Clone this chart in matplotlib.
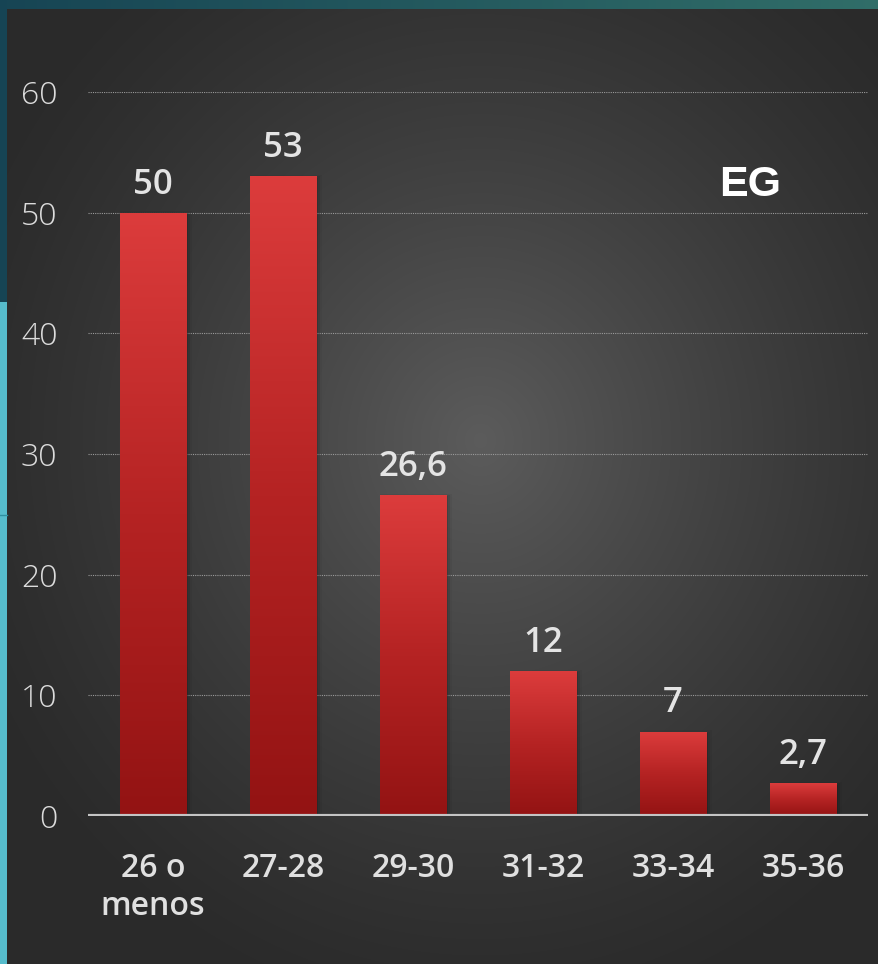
import numpy as np
import matplotlib
matplotlib.use("Agg")
import matplotlib.pyplot as plt
from matplotlib.colors import LinearSegmentedColormap

categories = ["26 o\nmenos", "27-28", "29-30", "31-32", "33-34", "35-36"]
values = [50, 53, 26.6, 12, 7, 2.7]
value_labels = ["50", "53", "26,6", "12", "7", "2,7"]
yticks = [0, 10, 20, 30, 40, 50, 60]
title_text = "EG"

W, H = 879, 964
fig = plt.figure(figsize=(W / 100, H / 100), dpi=100)

# background
bg = fig.add_axes([0, 0, 1, 1])
bg.set_xlim(0, W)
bg.set_ylim(H, 0)
bg.axis("off")
yy, xx = np.mgrid[0:H, 0:W]
r = np.sqrt(((xx - 480) / 560.0) ** 2 + ((yy - 440) / 600.0) ** 2)
v = np.clip(1 - r, 0, 1) ** 1.3
lo, hi = 0.165, 0.36
g = lo + (hi - lo) * v
img = np.dstack([g, g, g])
bg.imshow(img, extent=[0, W, H, 0], aspect="auto", zorder=0)
# teal frame
top = np.linspace(0, 1, W)
tc = np.array([0.09, 0.27, 0.33])[None, :] * (1 - top[:, None]) + np.array([0.19, 0.43, 0.41])[None, :] * top[:, None]
bg.imshow(tc[None, :, :], extent=[0, W, 9, 0], aspect="auto", zorder=1)
bg.fill_between([0, 7], 0, 302, color="#164454", zorder=1, lw=0)
bg.fill_between([0, 7], 302, H, color="#56bccc", zorder=1, lw=0)
bg.plot([0, 7], [515, 515], color="#2f8fa0", lw=1, zorder=2)

ax = fig.add_axes([88 / W, 148 / H, 780 / W, (816 - 92) / H])
ax.set_facecolor("none")
x = np.arange(len(categories))
bars = ax.bar(x, values, width=0.515, color="none", zorder=3)

cmap = LinearSegmentedColormap.from_list("r", ["#931313", "#b52323", "#dc3c3c"])
grad = np.linspace(0, 1, 256)[:, None]
for b in bars:
    x0, y0 = b.get_x(), b.get_y()
    w, h = b.get_width(), b.get_height()
    # soft shadow
    for k, a in enumerate([0.10, 0.07, 0.04]):
        ax.bar(x0 + w / 2 + 0.008 * (k + 1), h + 0.1 * k, width=w + 0.012 * (k + 1),
               bottom=-0.1, color="black", alpha=a, zorder=2, lw=0)
    im = ax.imshow(grad, cmap=cmap, extent=[x0, x0 + w, y0, y0 + h], origin="lower",
                   aspect="auto", zorder=3)
    im.set_clip_path(b)
ax.set_aspect("auto")
ax.set_xlim(-0.5, len(categories) - 0.5)
ax.set_ylim(0, 60)

for xi, val, lab in zip(x, values, value_labels):
    ax.annotate(lab, (xi, val), xytext=(0, 8), textcoords="offset points",
                ha="center", va="bottom", fontsize=25, fontweight="semibold",
                color="#e4e4e4", family="Open Sans", zorder=5)

for yv in yticks[1:]:
    ax.axhline(yv, color="#9a9a9a", lw=0.8, ls=(0, (1, 1)), zorder=1)
ax.axhline(0, color="#c4c4c4", lw=3, zorder=4)

for s in ax.spines.values():
    s.set_visible(False)
ax.set_yticks(yticks)
ax.set_yticklabels([str(t) for t in yticks], fontsize=23, color="#dcdcdc", family="Open Sans",
                   fontweight="light")
ax.tick_params(axis="y", length=0, pad=22)
ax.set_xticks(x)
ax.set_xticklabels(categories, fontsize=23, color="#e0e0e0", family="Open Sans",
                   fontweight="semibold", linespacing=1.2)
ax.tick_params(axis="x", length=0, pad=26)

fig.text(750 / W, 1 - 185 / H, title_text, fontsize=31, fontweight="bold", color="white",
         family="Liberation Sans", ha="center", va="center")

fig.savefig("out.png", dpi=100)
